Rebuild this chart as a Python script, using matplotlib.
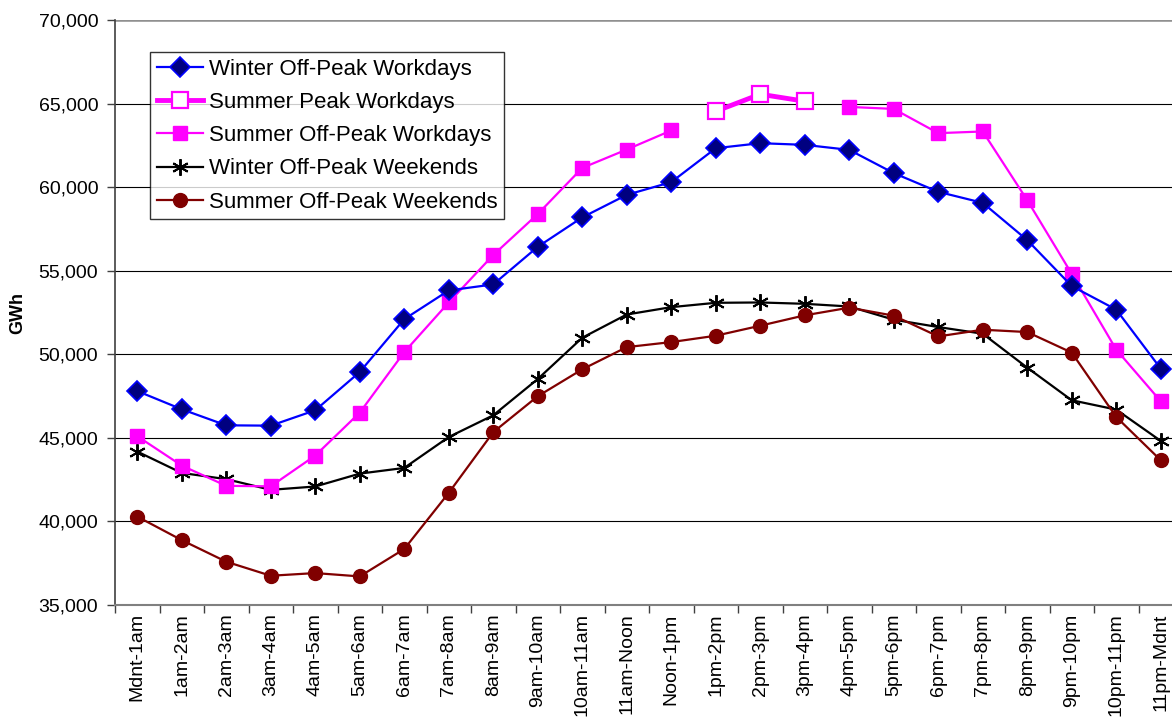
import numpy as np
import matplotlib
matplotlib.use("Agg")
import matplotlib.pyplot as plt
from matplotlib.ticker import FuncFormatter, MultipleLocator

plt.rcParams['font.family'] = ['Liberation Sans', 'DejaVu Sans']

hours = ["Mdnt-1am", "1am-2am", "2am-3am", "3am-4am", "4am-5am", "5am-6am",
         "6am-7am", "7am-8am", "8am-9am", "9am-10am", "10am-11am", "11am-Noon",
         "Noon-1pm", "1pm-2pm", "2pm-3pm", "3pm-4pm", "4pm-5pm", "5pm-6pm",
         "6pm-7pm", "7pm-8pm", "8pm-9pm", "9pm-10pm", "10pm-11pm", "11pm-Mdnt"]

nan = np.nan
winter_offpeak_workdays = [47800, 46710, 45750, 45730, 46650, 48940,
                           52100, 53820, 54180, 56430, 58190, 59540,
                           60300, 62330, 62630, 62530, 62230, 60840,
                           59720, 59060, 56830, 54080, 52670, 49140]
summer_peak_workdays = [nan, nan, nan, nan, nan, nan,
                        nan, nan, nan, nan, nan, nan,
                        nan, 64540, 65560, 65140, nan, nan,
                        nan, nan, nan, nan, nan, nan]
summer_offpeak_workdays = [45100, 43340, 42130, 42100, 43940, 46510,
                           50130, 53100, 55940, 58390, 61150, 62250,
                           63390, nan, nan, nan, 64800, 64680,
                           63230, 63330, 59220, 54810, 50280, 47190]
winter_offpeak_weekends = [44180, 42900, 42530, 41890, 42090, 42860,
                           43200, 45050, 46350, 48520, 50990, 52380,
                           52820, 53080, 53100, 53020, 52860, 52070,
                           51630, 51230, 49200, 47250, 46690, 44820]
summer_offpeak_weekends = [40290, 38880, 37590, 36750, 36910, 36710,
                           38350, 41710, 45340, 47490, 49100, 50430,
                           50730, 51110, 51710, 52330, 52790, 52310,
                           51070, 51470, 51330, 50100, 46250, 43660]

fig = plt.figure(figsize=(11.72, 7.21), dpi=100)
ax = fig.add_axes([115/1172, 116/721, 1068/1172, 585/721])

x = np.arange(len(hours))

ax.plot(x, winter_offpeak_workdays, color='#0000FF', lw=1.6, marker='D',
        markersize=10, markerfacecolor='#000080', markeredgecolor='#0000FF',
        markeredgewidth=1.2, label='Winter Off-Peak Workdays', zorder=5)
ax.plot(x, summer_peak_workdays, color='#FF00FF', lw=3.5, marker='s',
        markersize=11, markerfacecolor='white', markeredgecolor='#FF00FF',
        markeredgewidth=1.6, label='Summer Peak Workdays', zorder=6)
ax.plot(x, summer_offpeak_workdays, color='#FF00FF', lw=1.6, marker='s',
        markersize=9.5, markerfacecolor='#FF00FF', markeredgecolor='#FF00FF',
        label='Summer Off-Peak Workdays', zorder=4)
ax.plot(x, winter_offpeak_weekends, color='black', lw=1.6, marker=(6, 2, 0),
        markersize=12, markeredgewidth=1.4, markeredgecolor='black',
        label='Winter Off-Peak Weekends', zorder=3)
ax.plot(x, summer_offpeak_weekends, color='#800000', lw=1.6, marker='o',
        markersize=10, markerfacecolor='#800000', markeredgecolor='#800000',
        label='Summer Off-Peak Weekends', zorder=3)

ax.set_xlim(-0.5, len(hours) - 0.5)
ax.set_ylim(35000, 70000)
ax.yaxis.set_major_locator(MultipleLocator(5000))
ax.yaxis.set_major_formatter(FuncFormatter(lambda v, p: f"{int(v):,}"))
ax.grid(axis='y', color='black', lw=0.8)
ax.set_axisbelow(True)

ax.set_xticks(x)
ax.set_xticklabels(hours, rotation=90, fontsize=14)
ax.set_xticks(np.arange(len(hours) + 1) - 0.5, minor=True)
ax.tick_params(axis='x', which='major', length=0, pad=6)
ax.tick_params(axis='x', which='minor', length=6, width=1, color='#404040')
ax.tick_params(axis='y', labelsize=14, length=6, width=1, color='#404040', pad=6)

for s in ['top', 'right']:
    ax.spines[s].set_visible(False)
ax.spines['left'].set_color('#404040')
ax.spines['left'].set_linewidth(1.2)
ax.spines['bottom'].set_color('#808080')
ax.spines['bottom'].set_linewidth(1.5)
ax.axhline(70000, color='#909090', lw=1.8)

ax.set_ylabel('GWh', fontsize=13, fontweight='bold')
ax.yaxis.set_label_coords(-0.083, 0.50)

leg = ax.legend(loc='upper left', bbox_to_anchor=(150/1172, 1 - 52/721),
                bbox_transform=fig.transFigure, fontsize=16, frameon=True,
                fancybox=False, shadow=False, borderpad=0.3, labelspacing=0.55,
                handlelength=2.1, handletextpad=0.25, borderaxespad=0)
leg.get_frame().set_edgecolor('black')
leg.get_frame().set_linewidth(1.0)

fig.savefig('out.png', dpi=100)
